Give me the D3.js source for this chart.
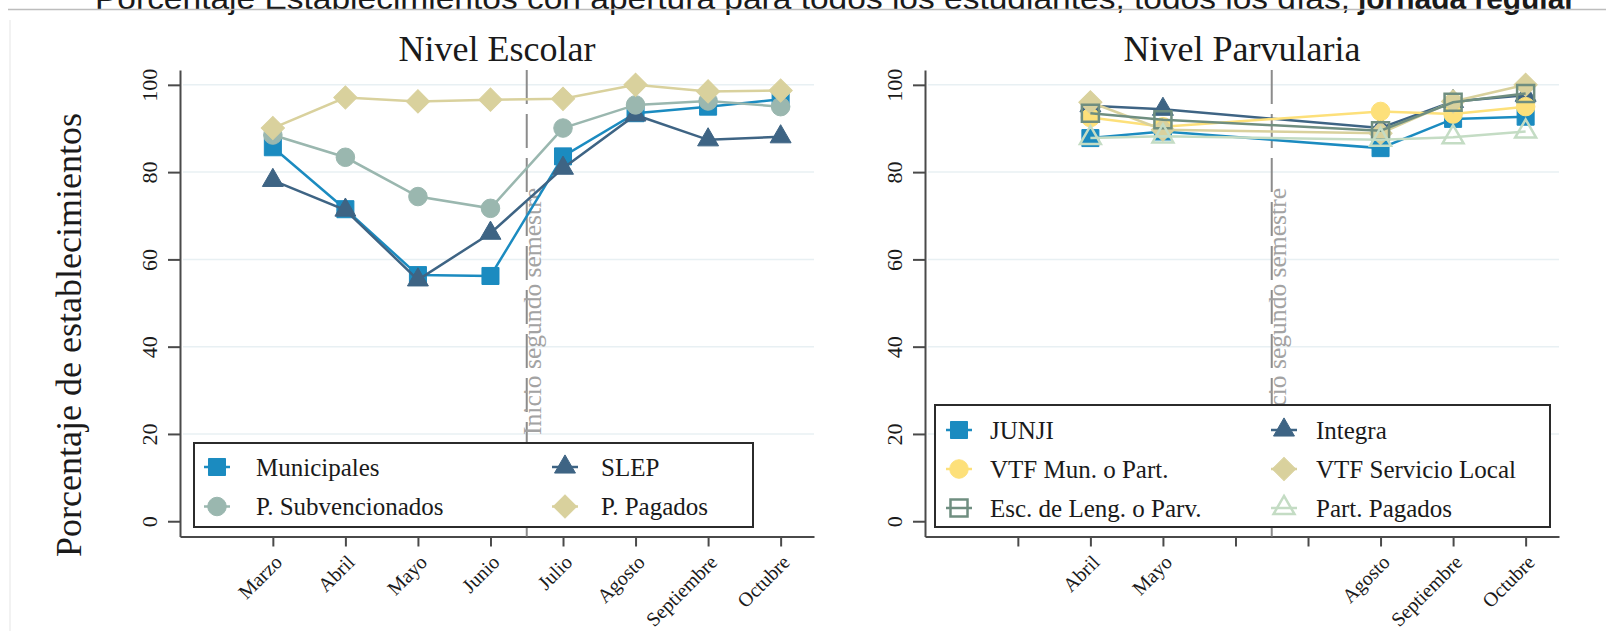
<!DOCTYPE html>
<html>
<head>
<meta charset="utf-8">
<script src="https://cdn.jsdelivr.net/npm/d3@7"></script>
<style>
  body { margin: 0; background: #fff; }
  svg { display: block; }
  text { font-family: "Liberation Serif", "Times New Roman", serif; fill: #1a1a1a; }
</style>
</head>
<body>
<div id="chart"></div>
<script>
// Months shown on the x axis (month number and label)
const months = [3, 4, 5, 6, 7, 8, 9, 10];
const monthLabels = ["Marzo", "Abril", "Mayo", "Junio", "Julio", "Agosto", "Septiembre", "Octubre"];
const yTicks = [0, 20, 40, 60, 80, 100];

// Nivel Escolar
const escolarMonths = [3, 4, 5, 6, 7, 8, 9, 10];
const municipales = [85.7, 71.5, 56.4, 56.2, 83.6, 93.5, 95.0, 96.7];
const slep = [78.1, 71.3, 55.3, 66.0, 80.9, 93.1, 87.4, 88.1];
const subvencionados = [88.5, 83.4, 74.4, 71.7, 90.1, 95.4, 96.3, 95.0];
const pagados = [90.1, 97.1, 96.2, 96.6, 96.8, 100.0, 98.5, 98.7];

// Nivel Parvularia
const parvMonths = [4, 5, 8, 9, 10];
const junji = [87.8, 89.3, 85.5, 92.2, 92.7];
const integra = [95.2, 94.4, 90.1, 96.2, 97.6];
const vtfMun = [92.5, 90.4, 93.9, 93.3, 95.0];
const vtfLocal = [96.0, 89.7, 88.9, 96.2, 100.0];
const escLeng = [93.5, 92.0, 89.5, 96.0, 98.0];
const partPagados = [87.8, 88.2, 87.4, 88.0, 89.3];

const semesterStart = 6.5;

const width = 1606, height = 631;
const plotWidth = 634;

const svg = d3.select("#chart")
  .append("svg")
    .attr("width", width)
    .attr("height", height);

// Scales (shared by both panels)
const xScale = d3.scaleLinear()
  .domain([1.72, 10.46])
  .range([0, plotWidth]);
const yScale = d3.scaleLinear()
  .domain([-3.5, 103.4])
  .range([536.5, 70]);

const symbols = {
  square: d3.symbol(d3.symbolSquare, 290),
  circle: d3.symbol(d3.symbolCircle, 270),
  diamond: d3.symbol(d3.symbolSquare, 270),
  triangle: d3.symbol(d3.symbolTriangle, 190)
};

const drawMarker = (g, s, x, y) => {
  g.append("path")
    .attr("d", symbols[s.shape]())
    .attr("transform", `translate(${x}, ${y})` + (s.shape === "diamond" ? " rotate(45)" : ""))
    .attr("fill", s.hollow ? "none" : s.color)
    .attr("stroke", s.color)
    .attr("stroke-width", s.hollow ? 2.5 : 1);
};

/*****************************/
/*    Title and decoration   */
/*****************************/
svg.append("text")
  .text("Porcentaje Establecimientos con apertura para todos los estudiantes, todos los días, ")
  .attr("x", 95)
  .attr("y", 9)
  .attr("textLength", 1255)
  .attr("lengthAdjust", "spacingAndGlyphs")
  .style("font-family", "'Liberation Sans', Arial, sans-serif")
  .style("font-size", "30px");
svg.append("text")
  .text("jornada regular")
  .attr("x", 1358)
  .attr("y", 9)
  .attr("textLength", 218)
  .attr("lengthAdjust", "spacingAndGlyphs")
  .style("font-family", "'Liberation Sans', Arial, sans-serif")
  .style("font-weight", "bold")
  .style("font-size", "30px");
svg.append("line")
  .attr("x1", 8).attr("x2", width)
  .attr("y1", 9.5).attr("y2", 9.5)
  .attr("stroke", "#bdbdbd")
  .attr("stroke-width", 1.5);
svg.append("line")
  .attr("x1", 10).attr("x2", 10)
  .attr("y1", 20).attr("y2", height)
  .attr("stroke", "#eeeeee")
  .attr("stroke-width", 1.5);

// Y axis title
svg.append("text")
  .text("Porcentaje de establecimientos")
  .attr("text-anchor", "middle")
  .attr("transform", "translate(81, 335) rotate(-90)")
  .style("font-size", "36px");

/*****************************/
/*        Draw a panel       */
/*****************************/
const drawPanel = (cfg) => {
  const panel = svg.append("g")
    .attr("transform", `translate(${cfg.left}, 0)`);

  // Gridlines
  panel.selectAll(".grid")
    .data(yTicks.filter(d => d > 0))
    .join("line")
      .attr("class", "grid")
      .attr("x1", 3)
      .attr("x2", plotWidth)
      .attr("y1", d => yScale(d))
      .attr("y2", d => yScale(d))
      .attr("stroke", "#e8f0f3")
      .attr("stroke-width", 1.5);

  // Panel title
  panel.append("text")
    .text(cfg.title)
    .attr("x", plotWidth / 2)
    .attr("y", 61)
    .attr("text-anchor", "middle")
    .style("font-size", "36px");

  // Left axis
  const leftAxis = d3.axisLeft(yScale)
    .tickValues(yTicks)
    .tickSize(12)
    .tickSizeOuter(0)
    .tickPadding(6);
  const yAxisG = panel.append("g")
    .attr("color", "#4a4a4a")
    .call(leftAxis);
  yAxisG.select(".domain").attr("stroke-width", 2);
  yAxisG.selectAll(".tick line").attr("stroke-width", 2);
  yAxisG.selectAll(".tick text")
    .attr("x", 0).attr("y", 0).attr("dy", 0)
    .attr("text-anchor", "middle")
    .attr("transform", "translate(-23, 0) rotate(-90)")
    .style("font-family", "'Liberation Serif', serif")
    .style("font-size", "22px")
    .attr("fill", "#1a1a1a");

  // Bottom axis
  const bottomAxis = d3.axisBottom(xScale)
    .tickValues(months)
    .tickSize(10)
    .tickSizeOuter(0)
    .tickFormat((d, i) => cfg.labelled.includes(d) ? monthLabels[i] : "");
  const xAxisG = panel.append("g")
    .attr("transform", `translate(0, ${yScale.range()[0]})`)
    .attr("color", "#4a4a4a")
    .call(bottomAxis);
  xAxisG.select(".domain").attr("stroke-width", 2);
  xAxisG.selectAll(".tick line").attr("stroke-width", 2);
  xAxisG.selectAll(".tick text")
    .attr("x", 0).attr("y", 0).attr("dy", "0.35em")
    .attr("text-anchor", "end")
    .attr("transform", "translate(5, 22) rotate(-45)")
    .style("font-family", "'Liberation Serif', serif")
    .style("font-size", "20px")
    .attr("fill", "#1a1a1a");

  // Semester line and label
  panel.append("line")
    .attr("x1", xScale(semesterStart)).attr("x2", xScale(semesterStart))
    .attr("y1", yScale.range()[1]).attr("y2", yScale.range()[0])
    .attr("stroke", "#8c8c8c")
    .attr("stroke-width", 2)
    .attr("stroke-dasharray", "34,10");
  panel.append("text")
    .text("Inicio segundo semestre")
    .attr("transform", `translate(${xScale(semesterStart) + 14}, 435) rotate(-90)`)
    .attr("textLength", 247)
    .attr("lengthAdjust", "spacingAndGlyphs")
    .style("font-size", "25px")
    .style("fill", "#a3a3a3");

  // Series
  const line = d3.line()
    .x(d => xScale(d.m))
    .y(d => yScale(d.v));
  cfg.series.forEach(s => {
    const pts = cfg.months.map((m, i) => ({ m: m, v: s.values[i] }));
    panel.append("path")
      .datum(pts)
      .attr("d", line)
      .attr("fill", "none")
      .attr("stroke", s.color)
      .attr("stroke-width", 2.5);
    pts.forEach(p => drawMarker(panel, s, xScale(p.m), yScale(p.v)));
  });

  // Legend
  const lg = svg.append("g");
  lg.append("rect")
    .attr("x", cfg.legend.x)
    .attr("y", cfg.legend.y)
    .attr("width", cfg.legend.w)
    .attr("height", cfg.legend.h)
    .attr("fill", "#fff")
    .attr("stroke", "#2b2b2b")
    .attr("stroke-width", 2);
  cfg.series.forEach((s, i) => {
    const col = i % 2, row = Math.floor(i / 2);
    const mx = cfg.legend.markerX[col];
    const my = cfg.legend.rowY[row];
    lg.append("line")
      .attr("x1", mx - 13).attr("x2", mx + 13)
      .attr("y1", my).attr("y2", my)
      .attr("stroke", s.color)
      .attr("stroke-width", 2.5);
    drawMarker(lg, s, mx, my);
    lg.append("text")
      .text(s.name)
      .attr("x", cfg.legend.textX[col])
      .attr("y", my)
      .attr("dy", "0.34em")
      .style("font-size", "25px");
  });
};

drawPanel({
  left: 180,
  title: "Nivel Escolar",
  months: escolarMonths,
  labelled: months,
  series: [
    { name: "Municipales", values: municipales, color: "#1b8bc0", shape: "square" },
    { name: "SLEP", values: slep, color: "#3e6484", shape: "triangle" },
    { name: "P. Subvencionados", values: subvencionados, color: "#9ab7af", shape: "circle" },
    { name: "P. Pagados", values: pagados, color: "#d9d19d", shape: "diamond" }
  ],
  legend: { x: 194, y: 443, w: 559, h: 84, markerX: [217, 565], textX: [256, 601], rowY: [467, 506.5] }
});

drawPanel({
  left: 925,
  title: "Nivel Parvularia",
  months: parvMonths,
  labelled: parvMonths,
  series: [
    { name: "JUNJI", values: junji, color: "#1b8bc0", shape: "square" },
    { name: "Integra", values: integra, color: "#3e6484", shape: "triangle" },
    { name: "VTF Mun. o Part.", values: vtfMun, color: "#fde07a", shape: "circle" },
    { name: "VTF Servicio Local", values: vtfLocal, color: "#d9d19d", shape: "diamond" },
    { name: "Esc. de Leng. o Parv.", values: escLeng, color: "#6f8e80", shape: "square", hollow: true },
    { name: "Part. Pagados", values: partPagados, color: "#c4dcc4", shape: "triangle", hollow: true }
  ],
  legend: { x: 935, y: 405, w: 615, h: 122, markerX: [959, 1284], textX: [990, 1316], rowY: [430, 469, 508] }
});
</script>
</body>
</html>
